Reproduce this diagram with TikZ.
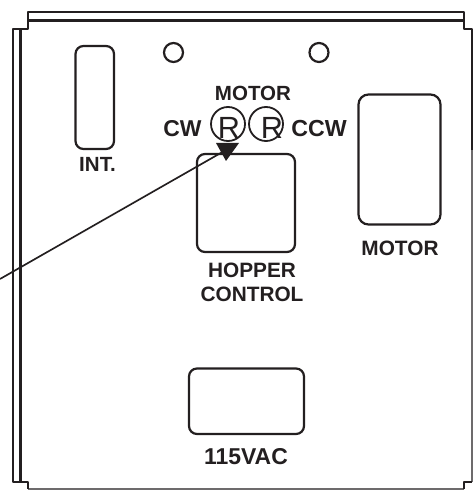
\documentclass[tikz,border=0pt]{standalone}
\usepackage{fontspec}
\setmainfont{Liberation Sans}
\definecolor{ink}{HTML}{231F20}
\definecolor{edge}{HTML}{6D6B6C}
\newcommand{\lab}[1]{\fontsize{#1}{#1}\selectfont\bfseries}
\tikzset{
  outline/.style={draw=ink,line width=1.8pt,line join=round},
  outlinelow/.style={draw=edge,line width=1.2pt},
  cutout/.style={draw=ink,line width=1.65pt,rounded corners=6pt},
  hole/.style={draw=ink,line width=1.65pt},
  ring/.style={draw=ink,line width=1.35pt},
  lbl/.style={text=ink,anchor=base,inner sep=0pt,outer sep=0pt},
  rmark/.style={text=ink,anchor=base,inner sep=0pt,outer sep=0pt,font=\fontsize{23}{23}\selectfont}
}
\begin{document}
\begin{tikzpicture}[x=0.75pt,y=-0.75pt]
\useasboundingbox (0,0) rectangle (474,491);
\clip (0,0) rectangle (474,491);
% panel
\draw[outlinelow] (28,489) -- (464,489);
\draw[outlinelow] (472,150) -- (472,482);
\draw[outline] (472,150) -- (472,29) -- (464,29) -- (464,12) -- (28,12) -- (28,29) -- (13,29) -- (13,482) -- (28,482) -- (28,489);
\draw[outline] (472,482) -- (464,482) -- (464,489);
\draw[outline] (28,20.5) -- (464,20.5);
\draw[outline] (20.5,29) -- (20.5,482);
% cut-outs
\draw[cutout] (75.5,46) rectangle (114,149);
\draw[cutout,rounded corners=7.5pt] (358.5,94.5) rectangle (440.5,224.5);
\draw[cutout] (197,154) rectangle (295,252);
\draw[cutout] (189,368.5) rectangle (304,434);
% screw holes
\draw[hole] (173.5,52.5) circle (9.5);
\draw[hole] (319,52.5) circle (9.5);
% switch marks
\draw[ring] (228,124) circle (17);
\draw[ring] (266,124) circle (17);
\node[rmark] (rcw) at (229,139) {R};
\node[rmark] (rccw) at (272,139) {R};
% labels
\node[lbl,font=\lab{15.4}] (motortop) at (253,101) {MOTOR};
\node[lbl,font=\lab{17.2}] (cw) at (182.5,137) {CW};
\node[lbl,font=\lab{17.4}] (ccw) at (319,137) {CCW};
\node[lbl,font=\lab{15.4}] (int) at (97.5,172) {INT.};
\node[lbl,font=\lab{15.6}] (motorr) at (400,255) {MOTOR};
\node[lbl,font=\lab{15.6}] (hopper) at (252,277) {HOPPER};
\node[lbl,font=\lab{15.6}] (control) at (252,301.5) {CONTROL};
\node[lbl,font=\lab{17.2}] (vac) at (246,464) {115VAC};
% leader
\coordinate (free) at (0,279);
\coordinate (tip) at (226,150);
\draw[draw=ink,line width=1.25pt] (free) -- (tip);
\fill[ink] (216,143) -- (239,143) -- (226,161) -- cycle;
\end{tikzpicture}
\end{document}
